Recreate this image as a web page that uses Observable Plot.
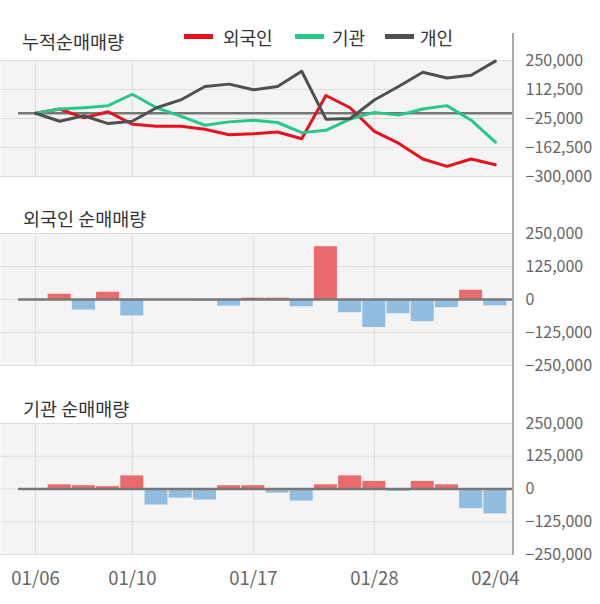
<!DOCTYPE html>
<html>
<head>
<meta charset="utf-8">
<script src="https://cdn.jsdelivr.net/npm/d3@7"></script>
<script src="https://cdn.jsdelivr.net/npm/@observablehq/plot@0.6"></script>
<style>
  body { margin: 0; background: #fff; }
  #root { position: relative; width: 600px; height: 604px; overflow: hidden; font-family: "Noto Sans CJK KR", "Noto Sans", sans-serif; }
  .title { position: absolute; font-size: 18.5px; line-height: 22px; color: #333; white-space: nowrap; }
  .sw { position: absolute; height: 5px; width: 29px; }
  .lg { position: absolute; font-size: 18px; line-height: 22px; color: #333; white-space: nowrap; }
  .panel { position: absolute; left: 0; }
  #axisline { position: absolute; left: 512px; top: 33px; width: 2px; height: 522px; background: #aaa; }
</style>
</head>
<body>
<div id="root">
  <div class="title" style="left:22px; top:30px;">누적순매매량</div>
  <div class="sw" style="left:184px; top:34px; background:#e8121c;"></div>
  <div class="lg" style="left:223px; top:26px;">외국인</div>
  <div class="sw" style="left:295px; top:34px; background:#27c98b;"></div>
  <div class="lg" style="left:332px; top:26px;">기관</div>
  <div class="sw" style="left:385px; top:34px; background:#505050;"></div>
  <div class="lg" style="left:420px; top:26px;">개인</div>
  <div class="title" style="left:23px; top:207px;">외국인 순매매량</div>
  <div class="title" style="left:23px; top:397px;">기관 순매매량</div>
  <div class="panel" id="p1" style="top:50px;"></div>
  <div class="panel" id="p2" style="top:220px;"></div>
  <div class="panel" id="p3" style="top:410px;"></div>
  <div id="axisline"></div>
</div>
<script>
// ---- data ----
const dates = ["01/06","01/07","01/08","01/09","01/10","01/13","01/14","01/15","01/16","01/17",
               "01/20","01/21","01/22","01/23","01/28","01/29","01/30","01/31","02/03","02/04"];
const seriesNames = ["외국인", "기관", "개인"];
const foreignCum = [0, 20000, -22000, 7000, -52000, -62000, -62000, -76000, -102000, -97000,
                    -89000, -121000, 84000, 26000, -86000, -142000, -217000, -252000, -217000, -244000];
const instCum = [0, 20000, 26000, 36000, 90000, 26000, -14000, -57000, -41000, -33000,
                 -44000, -92000, -81000, -28000, 4000, -9000, 20000, 36000, -33000, -137000];
const indivCum = [0, -38000, -12000, -49000, -38000, 26000, 63000, 127000, 138000, 111000,
                  127000, 199000, -28000, -25000, 63000, 127000, 194000, 167000, 180000, 247000];
const foreignDaily = [0, 20000, -40000, 27500, -62500, 0, 0, -5000, -25000, 5000,
                      5000, -27500, 200000, -50000, -106000, -54000, -84000, -31000, 35000, -24000];
const instDaily = [0, 16000, 12500, 9000, 50000, -61000, -35000, -42000, 12500, 12500,
                   -16000, -46000, 16000, 50000, 29000, -9000, 29000, 16000, -75000, -95000];
const cumTicks = [250000, 112500, -25000, -162500, -300000];
const dailyTicks = [250000, 125000, 0, -125000, -250000];
const dateTicks = [0, 4, 9, 14, 19];
const gridDates = [0, 4, 9, 14];

// ---- style ----
const lineColors = ["#e8121c", "#27c98b", "#505050"];
const posColor = "#ea6a6d", negColor = "#90bde0";
const gridColor = "#dddddd", bgColor = "#f4f4f4", zeroColor = "#777777";
const fmt = d3.format(",");
const xDomain = [-1.446, 19.75];
const zeroStart = -0.7;

const lineData = [];
[foreignCum, instCum, indivCum].forEach((arr, s) =>
  arr.forEach((v, i) => lineData.push({series: seriesNames[s], i, v})));

function axisStyle(size) {
  return {fontFamily: '"Noto Sans CJK KR", "Noto Sans", sans-serif', fontSize: size, color: "#666", background: "transparent", overflow: "visible"};
}

function barMarks(values, ticks) {
  const rows = values.map((v, i) => ({i, v}));
  return [
    Plot.frame({fill: bgColor, stroke: null}),
    Plot.ruleY(ticks, {stroke: gridColor}),
    Plot.ruleX(gridDates, {stroke: gridColor}),
    Plot.rectY(rows.filter(d => d.v !== 0), {
      x1: d => d.i - 0.5, x2: d => d.i + 0.5, y1: 0, y2: "v",
      insetLeft: 0.6, insetRight: 0.6,
      fill: d => d.v >= 0 ? posColor : negColor
    }),
    Plot.ruleY([0], {x1: zeroStart, x2: xDomain[1], stroke: zeroColor, strokeWidth: 2.5})
  ];
}

const p1 = Plot.plot({
  width: 600, height: 140,
  marginLeft: 0, marginRight: 87, marginTop: 10, marginBottom: 14,
  style: axisStyle("16px"),
  x: {type: "linear", domain: xDomain, axis: null},
  y: {domain: [-300000, 250000], axis: "right", ticks: cumTicks, tickFormat: fmt, tickSize: 0, tickPadding: 12, label: null},
  color: {domain: seriesNames, range: lineColors},
  marks: [
    Plot.frame({fill: bgColor, stroke: null}),
    Plot.ruleY(cumTicks, {stroke: gridColor}),
    Plot.ruleX(gridDates, {stroke: gridColor}),
    Plot.ruleY([0], {x1: zeroStart, x2: xDomain[1], stroke: zeroColor, strokeWidth: 2.5}),
    Plot.line(lineData, {x: "i", y: "v", z: "series", stroke: "series", strokeWidth: 3, strokeLinejoin: "round"})
  ]
});
document.getElementById("p1").appendChild(p1);

const p2 = Plot.plot({
  width: 600, height: 160,
  marginLeft: 0, marginRight: 87, marginTop: 13, marginBottom: 15,
  style: axisStyle("16px"),
  x: {type: "linear", domain: xDomain, axis: null},
  y: {domain: [-250000, 250000], axis: "right", ticks: dailyTicks, tickFormat: fmt, tickSize: 0, tickPadding: 12, label: null},
  marks: barMarks(foreignDaily, dailyTicks)
});
document.getElementById("p2").appendChild(p2);

const p3 = Plot.plot({
  width: 600, height: 194,
  marginLeft: 0, marginRight: 87, marginTop: 13, marginBottom: 50,
  style: axisStyle("16px"),
  x: {type: "linear", domain: xDomain, axis: null},
  y: {domain: [-250000, 250000], axis: "right", ticks: dailyTicks, tickFormat: fmt, tickSize: 0, tickPadding: 12, label: null},
  marks: [
    ...barMarks(instDaily, dailyTicks),
    Plot.axisX(dateTicks, {tickFormat: i => dates[i], tickSize: 0, tickPadding: 17, label: null, fontSize: 18.5, fill: "#666"})
  ]
});
document.getElementById("p3").appendChild(p3);
</script>
</body>
</html>
